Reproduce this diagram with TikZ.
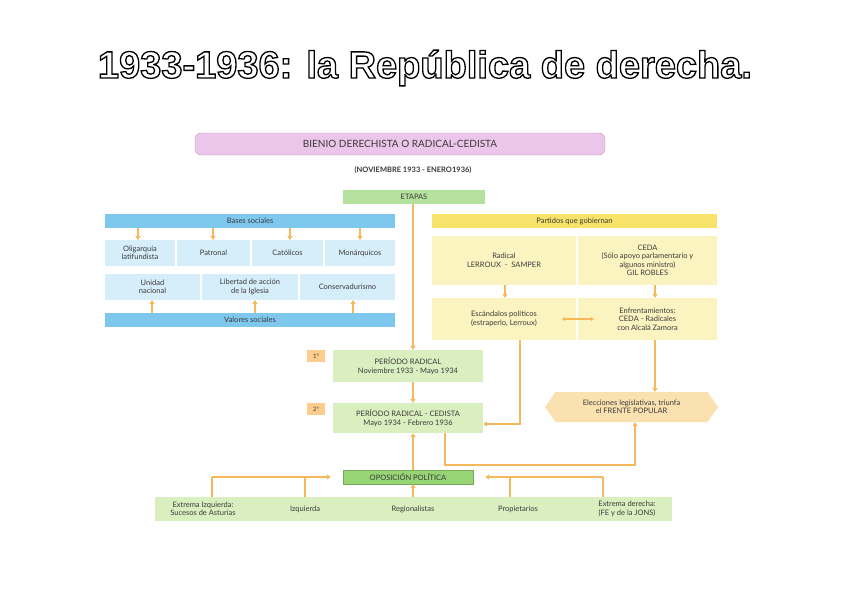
\documentclass[tikz,border=0pt]{standalone}
\usepackage{fontspec}
\setmainfont{Lato}
\newfontfamily\titlefont{Liberation Sans}
\usetikzlibrary{arrows.meta,shapes.geometric,shapes.symbols,calc}
\definecolor{arr}{HTML}{F5B85A}
\definecolor{blbar}{HTML}{7EC8EE}
\definecolor{blbox}{HTML}{D6EEF9}
\definecolor{yebar}{HTML}{F7E36A}
\definecolor{yebox}{HTML}{FCF4C0}
\definecolor{grbox}{HTML}{D9EFC0}
\definecolor{grdark}{HTML}{96D474}
\definecolor{pinkb}{HTML}{EBC6EA}
\definecolor{orbox}{HTML}{FBE1B0}
\definecolor{txt}{HTML}{3A3A3A}
\newcommand{\outlinetext}[1]{\special{pdf:literal 0 0 0 RG 1.3 w 2 Tr}#1\special{pdf:literal 0 Tr}}
\begin{document}
\begin{tikzpicture}[x=1pt,y=-1pt,
  every node/.style={text=txt,font=\fontsize{7.5}{8.5}\selectfont,align=center,inner sep=0pt},
  a/.style={draw=arr,line width=1.6pt,-{Triangle[length=4pt,width=5pt]}},
  ln/.style={draw=arr,line width=1.6pt},
  ttl/.style={font=\titlefont\bfseries\fontsize{38}{40}\selectfont}]
\useasboundingbox (0,0) rectangle (848,599);
\fill[white] (0,0) rectangle (848,599);
\node (title) [ttl,text=white] at (425,68) {\outlinetext{1933-1936: la República de derecha.}};
% header
\node (bienio) [fill=pinkb,draw=pinkb!80!black,rounded corners=6pt,minimum width=410pt,minimum height=22pt,font=\fontsize{10}{11}\selectfont] at (400,144) {BIENIO DERECHISTA O RADICAL-CEDISTA};
\node (fechas) [font=\bfseries\fontsize{7.5}{9}\selectfont] at (413,170) {(NOVIEMBRE 1933 - ENERO1936)};
\node (etapas) [fill=grdark!70,minimum width=142pt,minimum height=14pt] at (414,197) {ETAPAS};
% left side
\node (bases) [fill=blbar,minimum width=290pt,minimum height=14pt] at (250,221) {Bases sociales};
\node (oli) [fill=blbox,minimum width=70pt,minimum height=26pt] at (140,253) {Oligarquía\\latifundista};
\node (pat) [fill=blbox,minimum width=73pt,minimum height=26pt] at (213.5,253) {Patronal};
\node (cat) [fill=blbox,minimum width=71pt,minimum height=26pt] at (287.5,253) {Católicos};
\node (mon) [fill=blbox,minimum width=70pt,minimum height=26pt] at (360,253) {Monárquicos};
\node (uni) [fill=blbox,minimum width=95pt,minimum height=26pt] at (152.5,287) {Unidad\\nacional};
\node (lib) [fill=blbox,minimum width=96pt,minimum height=26pt] at (250,287) {Libertad de acción\\de la Iglesia};
\node (con) [fill=blbox,minimum width=95pt,minimum height=26pt] at (347.5,287) {Conservadurismo};
\node (val) [fill=blbar,minimum width=290pt,minimum height=14pt] at (250,320) {Valores sociales};
\foreach \x in {138,213,290,360}
  \draw[a] (\x,228) -- (\x,240);
\foreach \x in {152,255,353}
  \draw[a] (\x,313) -- (\x,300);
% right side
\node (part) [fill=yebar,minimum width=285pt,minimum height=14pt] at (574.5,221) {Partidos que gobiernan};
\node (rad) [fill=yebox,minimum width=144pt,minimum height=49pt] at (504,260.5) {Radical\\LERROUX \ - \ SAMPER};
\node (ceda) [fill=yebox,minimum width=139pt,minimum height=49pt] at (647.5,260.5) {CEDA\\(Sólo apoyo parlamentario y\\algunos ministro)\\GIL ROBLES};
\node (esc) [fill=yebox,minimum width=144pt,minimum height=42pt] at (504,319) {Escándalos políticos\\(estraperlo, Lerroux)};
\node (enf) [fill=yebox,minimum width=139pt,minimum height=42pt] at (647.5,319) {Enfrentamientos:\\CEDA - Radicales\\con Alcalá Zamora};
\draw[a] (505,285) -- (esc.north -| 505,0);
\draw[a] (655,285) -- (enf.north -| 655,0);
\draw[draw=arr,line width=1.2pt,{Triangle[length=3pt,width=4pt]}-{Triangle[length=3pt,width=4pt]}] (562,319) -- (594,319);
% stages
\node (p1n) [fill=orbox!80!orange,minimum width=18pt,minimum height=12pt,font=\fontsize{6}{7}\selectfont] at (316,356) {1ª};
\node (p2n) [fill=orbox!80!orange,minimum width=18pt,minimum height=12pt,font=\fontsize{6}{7}\selectfont] at (316,409) {2ª};
\node (p1) [fill=grbox,minimum width=150pt,minimum height=32pt] at (408,366) {PERÍODO RADICAL\\Noviembre 1933 - Mayo 1934};
\node (p2) [fill=grbox,minimum width=150pt,minimum height=30pt] at (408,418) {PERÍODO RADICAL - CEDISTA\\Mayo 1934 - Febrero 1936};
\draw[a] (etapas.south -| 413,0) -- (p1.north -| 413,0);
\draw[a] (p1.south -| 413,0) -- (p2.north -| 413,0);
\draw[a] (esc.south -| 520,0) |- (p2.east |- 0,424);
\node (elec) [fill=orbox,signal,signal to=west and east,signal pointer angle=110,minimum width=173pt,minimum height=30pt] at (631.5,407) {Elecciones legislativas, triunfa\\el FRENTE POPULAR};
\draw[a] (enf.south -| 655,0) -- (elec.north -| 655,0);
\draw[a] (p2.south -| 445,0) |- (635,465) -- (elec.south -| 635,0);
% opposition
\node (opo) [fill=grdark,draw=grdark!80!black,line width=0.4pt,minimum width=130pt,minimum height=14pt] at (408,477) {OPOSICIÓN POLÍTICA};
\draw[a] (opo.north -| 413,0) -- (p2.south -| 413,0);
\fill[grbox] (155,497) rectangle (672,521);
\node (ei) at (203,509) {Extrema Izquierda:\\Sucesos de Asturias};
\node (iz) at (305,509) {Izquierda};
\node (reg) at (413,509) {Regionalistas};
\node (pro) at (518,509) {Propietarios};
\node (ed) at (627,509) {Extrema derecha:\\(FE y de la JONS)};
\coordinate (ol) at ($(opo.west)+(-12,0)$);
\coordinate (or) at ($(opo.east)+(12,0)$);
\draw[ln] (212,497) -- (212,477);
\draw[ln] (305,497) -- (305,477);
\draw[a] (212,477) -- (ol);
\draw[ln] (603,497) -- (603,477);
\draw[ln] (510,497) -- (510,477);
\draw[a] (603,477) -- (or);
\draw[a] (413,497) -- (opo.south -| 413,0);
\end{tikzpicture}
\end{document}
